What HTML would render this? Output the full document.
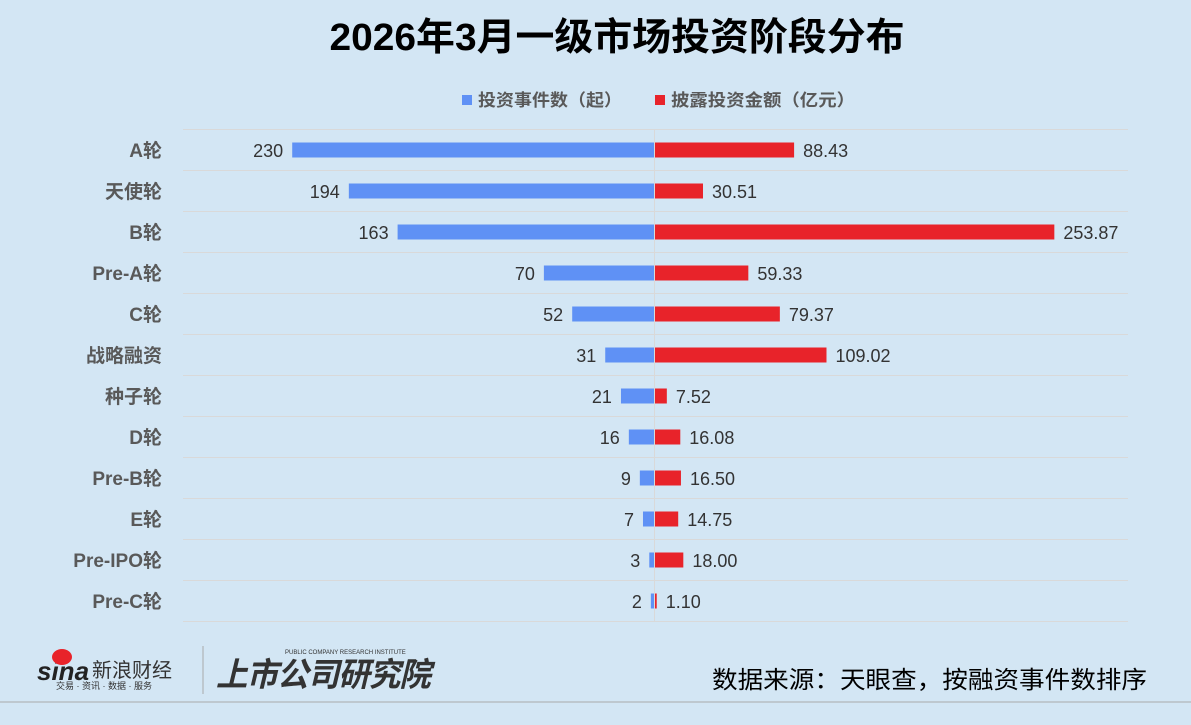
<!DOCTYPE html>
<html><head><meta charset="utf-8"><style>
body{margin:0;background:#d3e6f4;}
svg{display:block;font-family:"Liberation Sans","Noto Sans CJK SC",sans-serif;}
</style></head><body>
<svg width="1191" height="725" viewBox="0 0 1191 725">
<rect width="1191" height="725" fill="#d3e6f4"/>
<text x="617" y="50" text-anchor="middle" font-size="38" font-weight="bold" fill="#000" textLength="575" lengthAdjust="spacingAndGlyphs">2026年3月一级市场投资阶段分布</text>
<rect x="462" y="95" width="10" height="10" fill="#5f91f5"/>
<text x="478" y="106" font-size="17" font-weight="bold" fill="#595959" textLength="144" lengthAdjust="spacingAndGlyphs">投资事件数（起）</text>
<rect x="655" y="95" width="10" height="10" fill="#e8232a"/>
<text x="671" y="106" font-size="17" font-weight="bold" fill="#595959" textLength="184" lengthAdjust="spacingAndGlyphs">披露投资金额（亿元）</text>
<g stroke="#d9d9d9" stroke-width="1">
<line x1="183" x2="1128" y1="129.5" y2="129.5"/><line x1="183" x2="1128" y1="170.5" y2="170.5"/>
<line x1="183" x2="1128" y1="211.5" y2="211.5"/><line x1="183" x2="1128" y1="252.5" y2="252.5"/>
<line x1="183" x2="1128" y1="293.5" y2="293.5"/><line x1="183" x2="1128" y1="334.5" y2="334.5"/>
<line x1="183" x2="1128" y1="375.5" y2="375.5"/><line x1="183" x2="1128" y1="416.5" y2="416.5"/>
<line x1="183" x2="1128" y1="457.5" y2="457.5"/><line x1="183" x2="1128" y1="498.5" y2="498.5"/>
<line x1="183" x2="1128" y1="539.5" y2="539.5"/><line x1="183" x2="1128" y1="580.5" y2="580.5"/>
<line x1="183" x2="1128" y1="621.5" y2="621.5"/>
<line x1="654.5" x2="654.5" y1="129" y2="622"/>
</g>
<g id="rows" font-size="18"></g>
<line x1="0" x2="1191" y1="702" y2="702" stroke="#aaa"/>
<g font-weight="bold">
<text x="37" y="680" font-size="26" font-style="italic" fill="#222">sina</text>
<ellipse cx="62" cy="657" rx="10" ry="8" fill="#e8232a"/>
<text x="92" y="677" font-size="20" fill="#333" font-weight="normal">新浪财经</text>
<text x="56" y="689" font-size="9" fill="#333" font-weight="normal">交易 · 资讯 · 数据 · 服务</text>
<line x1="203" x2="203" y1="646" y2="694" stroke="#aaa"/>
<text x="285" y="654" font-size="6" fill="#333" font-weight="normal">PUBLIC COMPANY RESEARCH INSTITUTE</text>
<text x="216" y="686" font-size="33" fill="#333" font-style="italic" letter-spacing="-1" textLength="214" lengthAdjust="spacingAndGlyphs">上市公司研究院</text>
<text x="712" y="688" font-size="24" fill="#000" font-weight="normal" textLength="435" lengthAdjust="spacingAndGlyphs">数据来源：天眼查，按融资事件数排序</text>
</g>
</svg>
<script>
var d=[["A轮",230,"88.43"],["天使轮",194,"30.51"],["B轮",163,"253.87"],["Pre-A轮",70,"59.33"],["C轮",52,"79.37"],["战略融资",31,"109.02"],["种子轮",21,"7.52"],["D轮",16,"16.08"],["Pre-B轮",9,"16.50"],["E轮",7,"14.75"],["Pre-IPO轮",3,"18.00"],["Pre-C轮",2,"1.10"]];
var g=document.getElementById("rows"),s="",k=1.573;
d.forEach(function(r,i){var c=150+41*i,b=r[1]*k,v=parseFloat(r[2])*k;
s+='<text x="162" y="'+(c+7)+'" text-anchor="end" font-weight="bold" font-size="19" fill="#595959">'+r[0]+'</text>';
s+='<rect x="'+(654-b)+'" y="'+(c-7.5)+'" width="'+b+'" height="15" fill="#5f91f5"/>';
s+='<text x="'+(654-b-9)+'" y="'+(c+7)+'" text-anchor="end" fill="#333">'+r[1]+'</text>';
s+='<rect x="655" y="'+(c-7.5)+'" width="'+v+'" height="15" fill="#e8232a"/>';
s+='<text x="'+(655+v+9)+'" y="'+(c+7)+'" fill="#333">'+r[2]+'</text>';});
g.innerHTML=s;
</script>
</body></html>
